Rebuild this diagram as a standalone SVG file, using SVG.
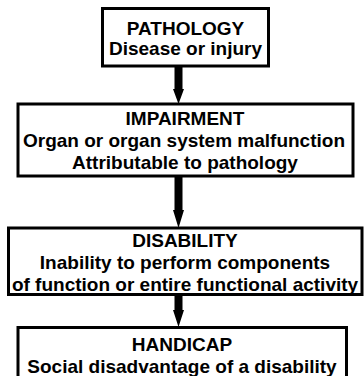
<svg xmlns="http://www.w3.org/2000/svg" width="364" height="376" viewBox="0 0 364 376">
<style>
.box{fill:#fff;stroke:#000;stroke-width:3}
text{font-family:"Liberation Sans",Arial,sans-serif;font-weight:bold;font-size:19px;text-anchor:middle;fill:#000}
.arrow{fill:#000;stroke:none}
</style>
<rect width="364" height="376" fill="#fff"/>
<g id="connectors">
<path class="arrow" d="M174.5,66 h8 v23 h1.5 l-5.5,15 l-5.5,-15 h1.5 z"/>
<path class="arrow" d="M174.5,176 h8 v34 h1.5 l-5.5,18 l-5.5,-18 h1.5 z"/>
<path class="arrow" d="M174.5,294 h8 v16 h1.5 l-5.5,17 l-5.5,-17 h1.5 z"/>
</g>
<g id="pathology">
<rect class="box" x="102.5" y="8.5" width="166" height="57.5"/>
<text x="185.5" y="35">PATHOLOGY</text>
<text x="185.5" y="55">Disease or injury</text>
</g>
<g id="impairment">
<rect class="box" x="18" y="104" width="335" height="72"/>
<text x="185" y="125">IMPAIRMENT</text>
<text x="184" y="147">Organ or organ system malfunction</text>
<text x="185" y="169">Attributable to pathology</text>
</g>
<g id="disability">
<rect class="box" x="8.5" y="228" width="353.5" height="66.5"/>
<text x="185" y="247">DISABILITY</text>
<text x="185" y="269">Inability to perform components</text>
<text x="185" y="291">of function or entire functional activity</text>
</g>
<g id="handicap">
<rect class="box" x="18" y="327.5" width="328.5" height="55"/>
<text x="182" y="351">HANDICAP</text>
<text x="182" y="373">Social disadvantage of a disability</text>
</g>
</svg>
